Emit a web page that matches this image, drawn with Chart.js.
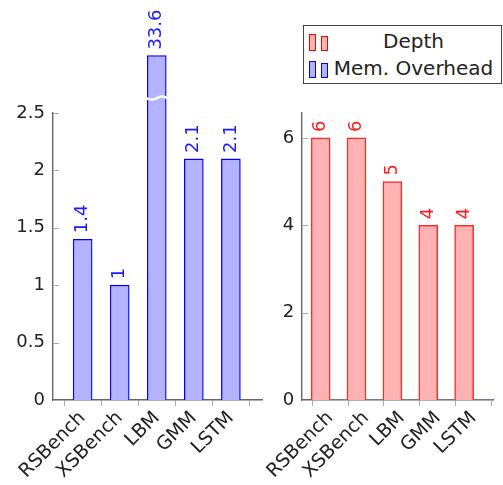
<!DOCTYPE html>
<html>
<head>
<meta charset="utf-8">
<script src="https://cdn.jsdelivr.net/npm/chart.js@4.4.1/dist/chart.umd.min.js"></script>
<style>
    body { margin: 0; background: #fff; width: 503px; height: 485px; position: relative; overflow: hidden; font-family: "DejaVu Sans", sans-serif; }
    #mem-chart { position: absolute; left: 0; top: 0; }
    #depth-chart { position: absolute; left: 265px; top: 0; }
    .legend { position: absolute; left: 303px; top: 25px; width: 197px; height: 57px; border: 1px solid #444; background: #fff; }
    .legend .row { position: absolute; left: 0; width: 197px; height: 26px; }
    .legend .icon { position: absolute; width: 5px; border: 1px solid; bottom: 3px; }
    .legend .txt { position: absolute; left: 24px; right: 2px; top: 0; text-align: center; font-size: 20px; line-height: 26px; color: #222; }
</style>
</head>
<body>
<canvas id="mem-chart" width="270" height="485"></canvas>
<canvas id="depth-chart" width="238" height="485"></canvas>
<div class="legend">
    <div class="row" style="top:2px">
        <div class="icon" style="left:5px;height:15px;background:#ffb3b3;border-color:#ff0000"></div>
        <div class="icon" style="left:17px;height:13px;background:#ffb3b3;border-color:#ff0000"></div>
        <div class="txt">Depth</div>
    </div>
    <div class="row" style="top:29px">
        <div class="icon" style="left:5px;height:15px;background:#b3b3ff;border-color:#0000ff"></div>
        <div class="icon" style="left:17px;height:13px;background:#b3b3ff;border-color:#0000ff"></div>
        <div class="txt">Mem. Overhead</div>
    </div>
</div>
<script>
const benchmarks = ['RSBench', 'XSBench', 'LBM', 'GMM', 'LSTM'];
const memOverhead = [1.4, 1, 33.6, 2.1, 2.1];
const depth = [6, 6, 5, 4, 4];
const memZero = [0, 0, 0, 0, 0];

// broken axis: bars above this are cut off
const memBreakCap = 3.0;
const memBreakMark = 2.63;

const FONT = '"DejaVu Sans", sans-serif';

// y ticks pointing into the plot
const innerTicks = {
    id: 'innerTicks',
    afterDatasetsDraw(chart) {
        const y = chart.scales.y;
        const ctx = chart.ctx;
        ctx.save();
        ctx.strokeStyle = '#aaa';
        ctx.lineWidth = 1;
        y.ticks.forEach(t => {
            const py = Math.round(y.getPixelForValue(t.value)) + 0.5;
            ctx.beginPath();
            ctx.moveTo(y.right, py);
            ctx.lineTo(y.right + 6, py);
            ctx.stroke();
        });
        ctx.restore();
    }
};

// rotated value labels above the bars
const valueLabels = {
    id: 'valueLabels',
    afterDatasetsDraw(chart, args, opts) {
        if (!opts.values) return;
        const ctx = chart.ctx;
        const bars = chart.getDatasetMeta(0).data;
        bars.forEach((bar, i) => {
            ctx.save();
            ctx.translate(bar.x, bar.y - 6);
            ctx.rotate(-Math.PI / 2);
            ctx.font = '18px ' + FONT;
            ctx.fillStyle = opts.color;
            ctx.textAlign = 'left';
            ctx.textBaseline = 'middle';
            ctx.fillText(String(opts.values[i]), 0, 0);
            ctx.restore();
        });
    }
};

// white wave across bars that were cut
const breakMark = {
    id: 'breakMark',
    afterDatasetsDraw(chart, args, opts) {
        if (!opts.values) return;
        const ctx = chart.ctx;
        const py = chart.scales.y.getPixelForValue(opts.at);
        chart.getDatasetMeta(0).data.forEach((bar, i) => {
            if (opts.values[i] <= opts.cap) return;
            const x0 = bar.x - bar.width / 2 - 1;
            const x1 = bar.x + bar.width / 2 + 1;
            ctx.save();
            ctx.strokeStyle = '#fff';
            ctx.lineWidth = 2.5;
            ctx.beginPath();
            for (let x = x0; x <= x1; x += 0.5) {
                const yy = py + 1.5 * Math.sin((x - x0) / (x1 - x0) * Math.PI * 2);
                if (x === x0) ctx.moveTo(x, yy); else ctx.lineTo(x, yy);
            }
            ctx.stroke();
            ctx.restore();
        });
    }
};

function xScale(min, max) {
    return {
        type: 'linear',
        min: min,
        max: max,
        offset: false,
        afterFit: s => { s.height = 85; },
        ticks: {
            stepSize: 1,
            includeBounds: false,
            autoSkip: false,
            minRotation: 45,
            maxRotation: 45,
            padding: 1,
            color: '#222',
            font: { family: FONT, size: 19 },
            callback: v => benchmarks[v] !== undefined ? benchmarks[v] : ''
        },
        grid: { display: true, drawOnChartArea: false, drawTicks: true, tickLength: 6, color: '#aaa' },
        border: { color: '#666', width: 1.4 }
    };
}

function yScale(max, step, width) {
    return {
        min: 0,
        max: max,
        afterFit: s => { s.width = width; },
        ticks: {
            stepSize: step,
            includeBounds: false,
            padding: 8,
            color: '#222',
            font: { family: FONT, size: 18 },
            callback: v => String(v)
        },
        grid: { display: false, drawTicks: false },
        border: { color: '#666', width: 1.4 }
    };
}

new Chart(document.getElementById('mem-chart'), {
    type: 'bar',
    data: {
        datasets: [{
            label: 'Mem. Overhead',
            data: memOverhead.map((v, i) => ({ x: i, y: Math.min(v, memBreakCap) })),
            backgroundColor: '#b3b3ff',
            borderColor: '#0000ff',
            borderWidth: 1.3,
            barThickness: 19,
            clip: false
        }]
    },
    options: {
        responsive: false,
        animation: false,
        layout: { padding: { top: 113, right: 8, left: 0, bottom: 0 } },
        plugins: {
            legend: { display: false },
            tooltip: { enabled: false },
            valueLabels: { values: memOverhead, color: '#1a1aff' },
            breakMark: { values: memOverhead, cap: memBreakCap, at: memBreakMark }
        },
        scales: {
            x: xScale(-0.8, 4.84),
            y: yScale(2.5, 0.5, 53)
        }
    },
    plugins: [innerTicks, valueLabels, breakMark]
});

new Chart(document.getElementById('depth-chart'), {
    type: 'bar',
    data: {
        datasets: [{
            label: 'Depth',
            data: depth.map((v, i) => ({ x: i, y: v })),
            backgroundColor: '#ffb3b3',
            borderColor: '#ff2a2a',
            borderWidth: 1.5,
            barThickness: 19
        }, {
            label: 'Mem. Overhead',
            data: memZero.map((v, i) => ({ x: i, y: v })),
            backgroundColor: '#b3b3ff',
            borderColor: '#0000ff',
            borderWidth: 0,
            barThickness: 19
        }]
    },
    options: {
        responsive: false,
        animation: false,
        layout: { padding: { top: 113, right: 10, left: 0, bottom: 0 } },
        plugins: {
            legend: { display: false },
            tooltip: { enabled: false },
            valueLabels: { values: depth, color: '#ff1a1a' }
        },
        scales: {
            x: xScale(-0.78, 4.54),
            y: yScale(6.57, 2, 30)
        }
    },
    plugins: [innerTicks, valueLabels]
});
</script>
</body>
</html>
